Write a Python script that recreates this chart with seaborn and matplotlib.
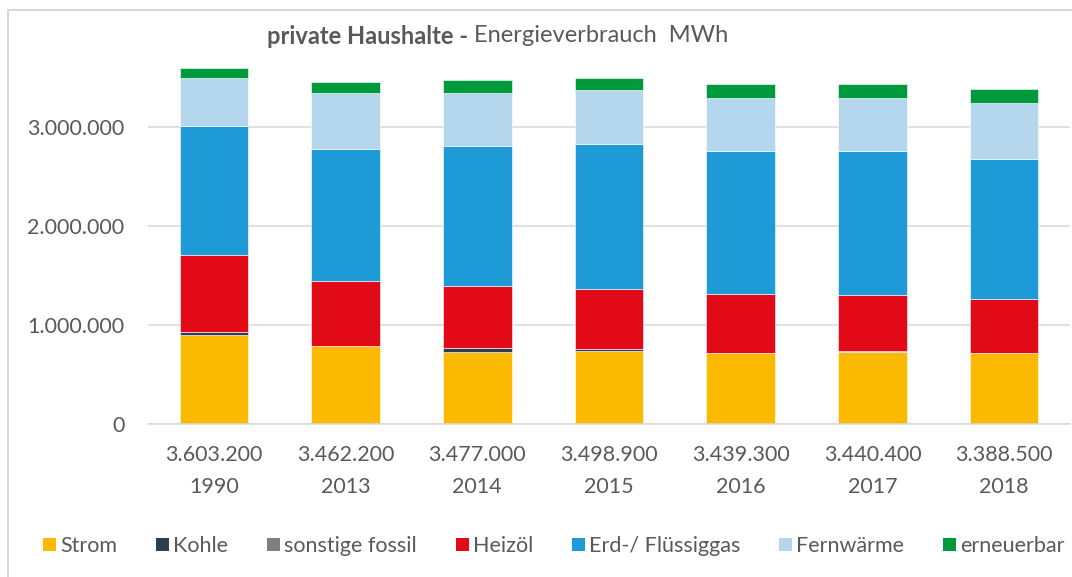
import numpy as np
import matplotlib
matplotlib.use('Agg')
import matplotlib.pyplot as plt
from matplotlib.patches import Patch
from matplotlib.lines import Line2D
import seaborn as sns

# Data (MWh)
years = ['1990', '2013', '2014', '2015', '2016', '2017', '2018']
totals = ['3.603.200', '3.462.200', '3.477.000', '3.498.900', '3.439.300', '3.440.400', '3.388.500']

strom = [899000, 785000, 730000, 734000, 714000, 727000, 714000]
kohle = [27000, 1000, 41000, 24000, 5000, 5000, 5000]
sonstige = [3000, 2000, 2000, 2000, 2000, 2000, 2000]
heizoel = [775000, 656000, 621000, 604000, 592000, 566000, 542000]
erdgas = [1306000, 1334000, 1414000, 1467000, 1445000, 1458000, 1417000]
fernwaerme = [492000, 572000, 542000, 543000, 538000, 538000, 565000]
erneuerbar = [101200, 112200, 127000, 124900, 143300, 144400, 143500]

series = ['Strom', 'Kohle', 'sonstige fossil', 'Heizöl', 'Erd-/ Flüssiggas', 'Fernwärme', 'erneuerbar']
values = [strom, kohle, sonstige, heizoel, erdgas, fernwaerme, erneuerbar]
colors = ['#FBB900', '#2C3E50', '#7F7F7F', '#E10A16', '#1E9AD6', '#B4D7EE', '#009A3E']

sns.set_style('white')
plt.rcParams['font.family'] = ['Lato', 'DejaVu Sans']
text_color = '#595959'

fig = plt.figure(figsize=(10.72, 5.77), dpi=100)
ax = fig.add_axes([148 / 1072, 1 - 424 / 577, 922 / 1072, (424 - 63) / 577])

# stacked bars, one seaborn call per energy source
bottom = np.zeros(len(years))
for name, vals, c in zip(series, values, colors):
    sns.barplot(x=years, y=vals, bottom=bottom, color=c, saturation=1, width=0.52,
                edgecolor='white', linewidth=0.4, ax=ax, label=name)
    bottom += np.array(vals)

ax.set_xlim(-0.5, 6.5)
ax.set_ylim(0, 3650000)
ax.set_yticks([0, 1000000, 2000000, 3000000])
ax.set_yticklabels(['0', '1.000.000', '2.000.000', '3.000.000'])
ax.set_xticks(range(len(years)))
ax.set_xticklabels([t + '\n' + y for t, y in zip(totals, years)], linespacing=1.75)
ax.tick_params(axis='both', length=0, labelsize=15.5, colors=text_color)
ax.tick_params(axis='x', pad=15)
ax.tick_params(axis='y', pad=17)
ax.set_xlabel('')
ax.set_ylabel('')
ax.yaxis.grid(True, color='#D9D9D9', linewidth=1.1)
ax.set_axisbelow(True)
for s in ['top', 'right', 'left']:
    ax.spines[s].set_visible(False)
ax.spines['bottom'].set_color('#D9D9D9')
ax.spines['bottom'].set_linewidth(1.1)
if ax.get_legend() is not None:
    ax.get_legend().remove()

# Title: bold part + normal part
t1 = fig.text(267 / 1072, 1 - 36 / 577, 'private Haushalte -', fontsize=17,
              fontweight='bold', color=text_color, va='center', ha='left')
ax.annotate(' Energieverbrauch  MWh', xy=(1, 0.5), xycoords=t1, fontsize=17,
            color=text_color, va='center', ha='left', annotation_clip=False)

# Legend
handles = [Patch(facecolor=c, edgecolor='none') for c in colors]
fig.legend(handles, series, loc='center', bbox_to_anchor=(554 / 1072, 1 - 546 / 577),
           ncol=7, frameon=False, fontsize=15.5, handlelength=0.6, handleheight=0.6,
           handletextpad=0.2, columnspacing=1.8, labelcolor=text_color)

# Chart frame
fig.add_artist(Line2D([8 / 1072, 8 / 1072], [0, 1 - 10 / 577], color='#D9D9D9', linewidth=1.5))
fig.add_artist(Line2D([8 / 1072, 1], [1 - 10 / 577, 1 - 10 / 577], color='#D9D9D9', linewidth=1.5))

fig.savefig('out.png', dpi=100)
